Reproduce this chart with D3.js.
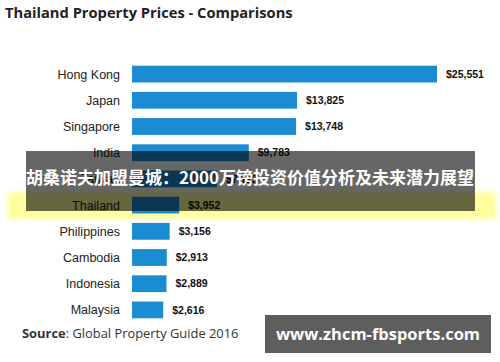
<!DOCTYPE html>
<html>
<head>
<meta charset="utf-8">
<script src="https://cdn.jsdelivr.net/npm/d3@7"></script>
<style>
  body { margin: 0; background: #fff; }
  svg { display: block; }
</style>
</head>
<body>
<div id="chart"></div>
<script>
const WIDTH = 500, HEIGHT = 362;

// data
const countries = ["Hong Kong", "Japan", "Singapore", "India", "Taiwan", "Thailand",
  "Philippines", "Cambodia", "Indonesia", "Malaysia"];
const prices = [25551, 13825, 13748, 9783, 7113, 3952, 3156, 2913, 2889, 2616];
const highlight = "Thailand";

const data = countries.map((c, i) => ({ country: c, price: prices[i] }));

const margin = { top: 61, left: 132, right: 64, bottom: 40 };

const svg = d3.select("#chart").append("svg")
  .attr("width", WIDTH)
  .attr("height", HEIGHT);

const defs = svg.append("defs");
defs.append("filter").attr("id", "soft")
  .attr("x", "-5%").attr("y", "-50%").attr("width", "110%").attr("height", "200%")
  .append("feGaussianBlur").attr("stdDeviation", 2);

const x = d3.scaleLinear()
  .domain([0, 25551])
  .range([margin.left, 437]);

const y = d3.scaleBand()
  .domain(countries)
  .range([margin.top, margin.top + 26.2 * countries.length])
  .paddingInner(0.36)
  .paddingOuter(0.18);

// title
svg.append("text")
  .attr("x", 5).attr("y", 18)
  .style("font-family", "'Open Sans', sans-serif")
  .style("font-weight", "bold")
  .style("font-size", "14.7px")
  .style("fill", "#222")
  .text("Thailand Property Prices - Comparisons");

// yellow highlight behind Thailand row
svg.append("rect")
  .attr("x", 8)
  .attr("y", y(highlight) + y.bandwidth() / 2 - 13)
  .attr("width", 488)
  .attr("height", 27)
  .attr("fill", "#ffff9e")
  .attr("filter", "url(#soft)");

const rows = svg.append("g").selectAll("g")
  .data(data)
  .join("g");

rows.append("rect")
  .attr("x", x(0))
  .attr("y", d => y(d.country))
  .attr("width", d => x(d.price) - x(0))
  .attr("height", y.bandwidth())
  .attr("fill", "#1b8bd2");

rows.append("text")
  .attr("x", 120)
  .attr("y", d => y(d.country) + y.bandwidth() / 2)
  .attr("dy", "0.36em")
  .attr("text-anchor", "end")
  .style("font-family", "'Liberation Sans', Arial, sans-serif")
  .style("font-size", "12.5px")
  .style("fill", "#222")
  .text(d => d.country);

rows.append("text")
  .attr("x", d => x(d.price) + 9)
  .attr("y", d => y(d.country) + y.bandwidth() / 2)
  .attr("dy", "0.36em")
  .style("font-family", "'Liberation Sans', Arial, sans-serif")
  .style("font-weight", "bold")
  .style("font-size", "10.5px")
  .style("fill", "#111")
  .text(d => "$" + d3.format(",")(d.price));

// source line
const src = svg.append("text")
  .attr("x", 22).attr("y", 338)
  .style("font-family", "'Open Sans', sans-serif")
  .style("font-size", "12.9px")
  .style("fill", "#333");
src.append("tspan").style("font-weight", "bold").text("Source");
src.append("tspan").text(": Global Property Guide 2016");

// dark caption banner
svg.append("rect")
  .attr("x", 26).attr("y", 151)
  .attr("width", 449).attr("height", 60)
  .attr("fill", "rgba(0,0,0,0.6)");

svg.append("text")
  .attr("x", 250).attr("y", 184)
  .attr("text-anchor", "middle")
  .style("font-family", "'Noto Sans CJK SC', sans-serif")
  .style("font-weight", "bold")
  .style("font-size", "17px")
  .style("fill", "#fff")
  .text("胡桑诺夫加盟曼城：2000万镑投资价值分析及未来潜力展望");

// watermark box
svg.append("rect")
  .attr("x", 265).attr("y", 315)
  .attr("width", 226).attr("height", 38)
  .attr("fill", "#5e5e5e");

svg.append("text")
  .attr("x", 378).attr("y", 340)
  .attr("text-anchor", "middle")
  .style("font-family", "'Open Sans', sans-serif")
  .style("font-weight", "bold")
  .style("font-size", "16.5px")
  .style("fill", "#fff")
  .text("www.zhcm-fbsports.com");
</script>
</body>
</html>
